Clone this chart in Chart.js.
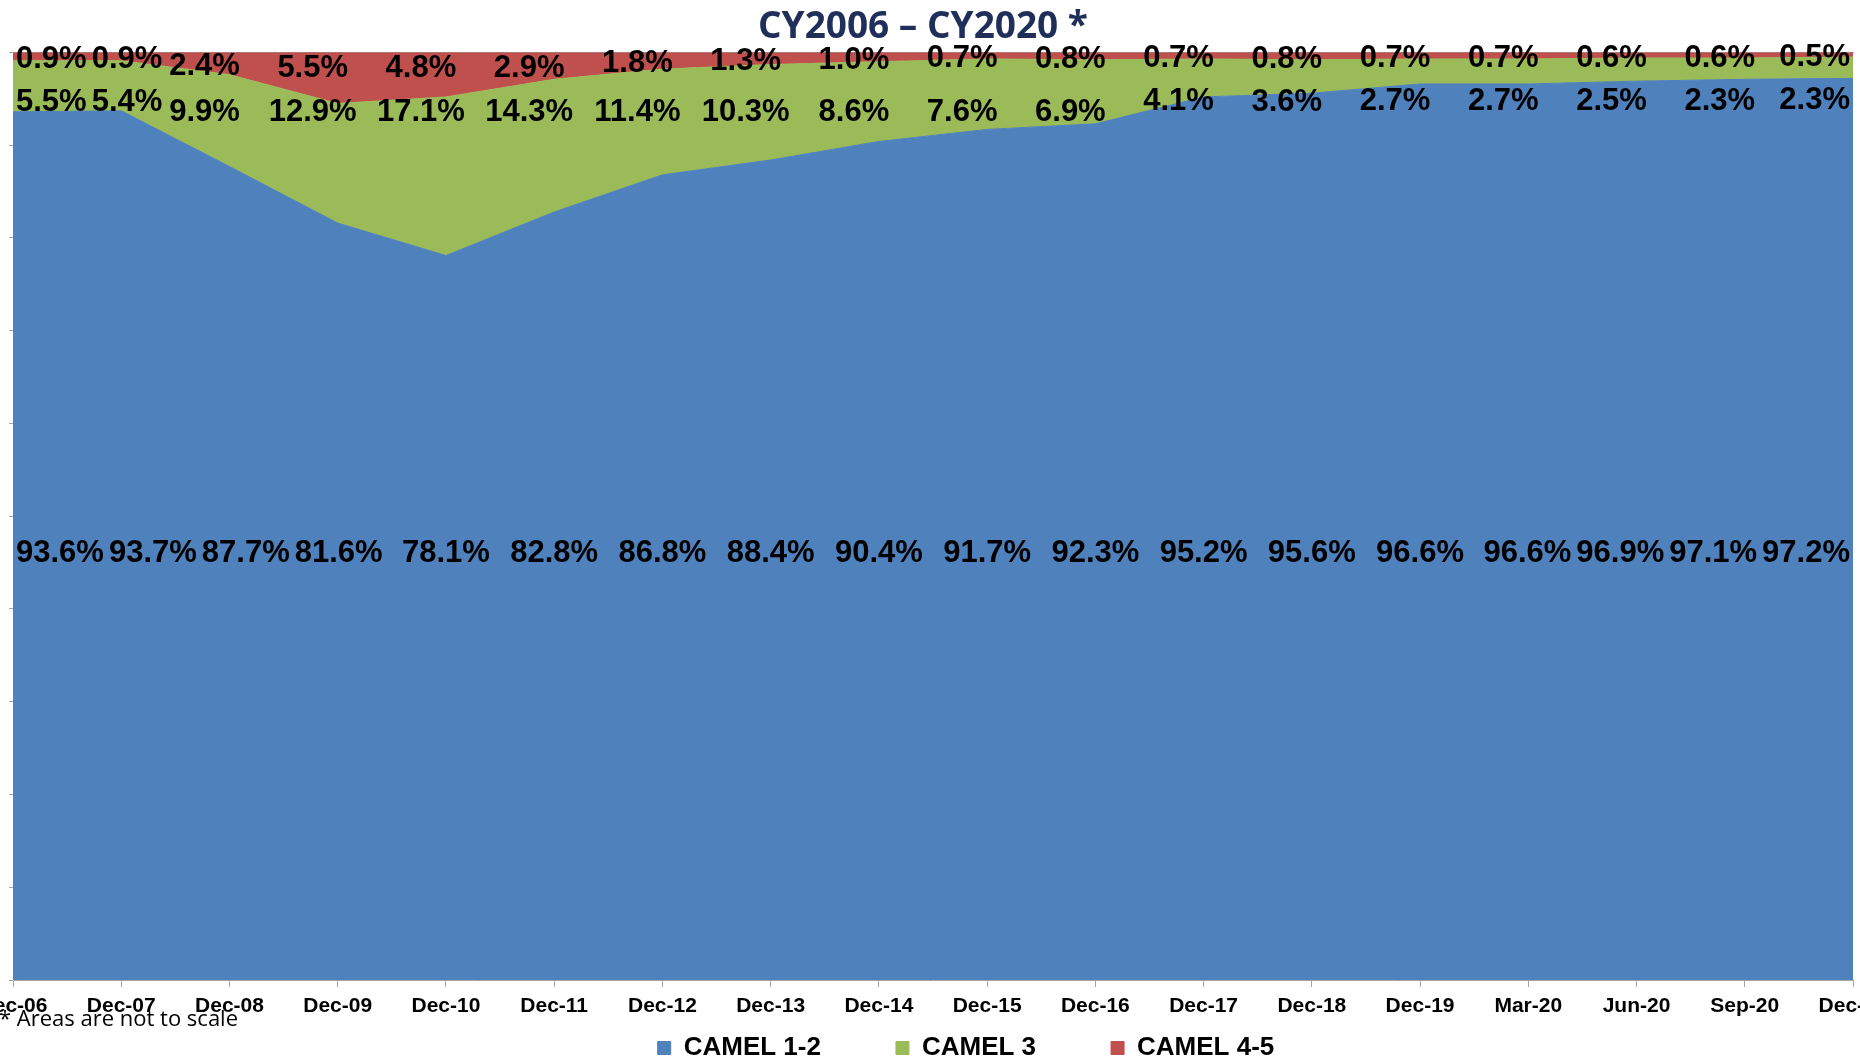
<!DOCTYPE html>
<html><head><meta charset="utf-8">
<script src="https://cdn.jsdelivr.net/npm/chart.js@4.4.1/dist/chart.umd.min.js"></script>
<style>html,body{margin:0;padding:0;background:#fff;overflow:hidden}#wrap{position:relative;width:1860px;height:1061px}</style>
</head><body><div id="wrap"><canvas id="c"></canvas></div>
<script>
const categories = ['Dec-06','Dec-07','Dec-08','Dec-09','Dec-10','Dec-11','Dec-12','Dec-13','Dec-14','Dec-15','Dec-16','Dec-17','Dec-18','Dec-19','Mar-20','Jun-20','Sep-20','Dec-20'];
const camel12 = [93.6,93.7,87.7,81.6,78.1,82.8,86.8,88.4,90.4,91.7,92.3,95.2,95.6,96.6,96.6,96.9,97.1,97.2];
const camel3  = [5.5,5.4,9.9,12.9,17.1,14.3,11.4,10.3,8.6,7.6,6.9,4.1,3.6,2.7,2.7,2.5,2.3,2.3];
const camel45 = [0.9,0.9,2.4,5.5,4.8,2.9,1.8,1.3,1.0,0.7,0.8,0.7,0.8,0.7,0.7,0.6,0.6,0.5];
const seriesNames = ['CAMEL 1-2','CAMEL 3','CAMEL 4-5'];
const titleText = 'CY2006 \u2013 CY2020 *';
const footnoteText = '* Areas are not to scale';

const COLORS = ['#4F81BD','#9BBB59','#C0504D'];
const LABEL_FONT = 'bold 31px "Liberation Sans", Arial, sans-serif';

function spread(xs, ws, left, right, edge, gap) {
  const n = xs.length;
  const c = xs.slice();
  const lo = i => left + edge + ws[i] / 2;
  const hi = i => right - edge - ws[i] / 2;
  for (let i = 0; i < n; i++) c[i] = Math.min(Math.max(c[i], lo(i)), hi(i));
  for (let i = 1; i < n; i++) {
    const m = c[i-1] + ws[i-1] / 2 + gap + ws[i] / 2;
    if (c[i] < m) c[i] = m;
  }
  c[n-1] = Math.min(c[n-1], hi(n-1));
  for (let i = n - 2; i >= 0; i--) {
    const m = c[i+1] - ws[i+1] / 2 - gap - ws[i] / 2;
    if (c[i] > m) c[i] = m;
  }
  return c;
}

const areaLabels = {
  id: 'areaLabels',
  afterDraw(chart) {
    const {ctx, chartArea: a, scales: {x, y}} = chart;
    ctx.save();
    ctx.font = LABEL_FONT;
    ctx.fillStyle = '#000';
    ctx.textAlign = 'center';
    ctx.textBaseline = 'middle';
    const fmt = v => v.toFixed(1) + '%';
    const px = categories.map((_, i) => x.getPixelForValue(i));
    const draw = (vals, xs, ys) => {
      const t = vals.map(fmt);
      const ws = t.map(s => ctx.measureText(s).width);
      const cx = spread(xs, ws, a.left, a.right, 3, 5);
      t.forEach((s, i) => ctx.fillText(s, cx[i], ys[i]));
    };
    const shifted = px.map(p => p - 25);
    const redY = camel45.map(v => Math.min((y.getPixelForValue(100) + y.getPixelForValue(100 - v)) / 2 + 3, a.top + 16));
    const greenY = redY.map((r, i) => Math.max(r + 43, Math.min(y.getPixelForValue(camel12[i]) - 10, a.top + 60)));
    const blueY = camel12.map(() => y.getPixelForValue(46));
    draw(camel45, shifted, redY);
    draw(camel3, shifted, greenY);
    draw(camel12, px, blueY);
    // footnote
    ctx.font = '22px "Open Sans", sans-serif';
    ctx.textAlign = 'left';
    ctx.textBaseline = 'alphabetic';
    ctx.fillText(footnoteText, -1, 1026);
    ctx.restore();
  }
};

const boxNudge = {
  id: 'boxNudge',
  afterLayout(chart) {
    const lg = chart.legend;
    if (lg) {
      const pad = lg.options.labels.padding;
      lg.top += 16 - pad;           // keep bottom so the clip box still holds the row
      lg.left += 35; lg.right += 35;
    }
    const tb = chart.titleBlock;
    if (tb) { tb.left -= 8; tb.right -= 8; }
  }
};

new Chart(document.getElementById('c'), {
  type: 'line',
  data: {
    labels: categories,
    datasets: [
      {label: seriesNames[0], data: camel12, fill: 'origin'},
      {label: seriesNames[1], data: camel3, fill: '-1'},
      {label: seriesNames[2], data: camel45, fill: '-1'}
    ].map((d, i) => Object.assign(d, {
      backgroundColor: COLORS[i], borderColor: COLORS[i], borderWidth: 1,
      pointRadius: 0, pointHoverRadius: 0, tension: 0
    }))
  },
  options: {
    responsive: true,
    maintainAspectRatio: false,
    animation: false,
    events: [],
    layout: {padding: {left: 9, right: 7, top: 0, bottom: 0}},
    scales: {
      x: {
        type: 'category',
        offset: false,
        grid: {drawOnChartArea: false, tickLength: 7, color: '#A6A6A6'},
        border: {color: '#A6A6A6'},
        ticks: {autoSkip: false, maxRotation: 0, padding: 7, color: '#000',
                font: {family: '"Liberation Sans", Arial, sans-serif', size: 21, weight: 'bold'}},
        afterFit(s) { s.paddingLeft = 0; s.paddingRight = 0; s.height = 39; }
      },
      xTop: {
        type: 'linear', position: 'top', min: 0, max: 1, z: 1,
        grid: {display: false, drawTicks: false},
        border: {color: '#A0A0A0'},
        ticks: {display: false}
      },
      y: {
        stacked: true, min: 0, max: 100,
        grid: {drawOnChartArea: false, tickLength: 4, color: '#A6A6A6'},
        border: {color: '#D0D0D0'},
        ticks: {display: false, stepSize: 10}
      }
    },
    plugins: {
      tooltip: {enabled: false},
      title: {
        display: true, text: titleText, color: '#1F2F5A',
        font: {family: '"Open Sans", sans-serif', size: 37, weight: 'bold'},
        padding: {top: 5, bottom: 3}
      },
      legend: {
        display: true, position: 'bottom', maxHeight: 42,
        labels: {
          boxWidth: 13, boxHeight: 13, padding: 75, color: '#000',
          font: {family: '"Liberation Sans", Arial, sans-serif', size: 26, weight: 'bold'}
        }
      }
    }
  },
  plugins: [areaLabels, boxNudge]
});
</script></body></html>
